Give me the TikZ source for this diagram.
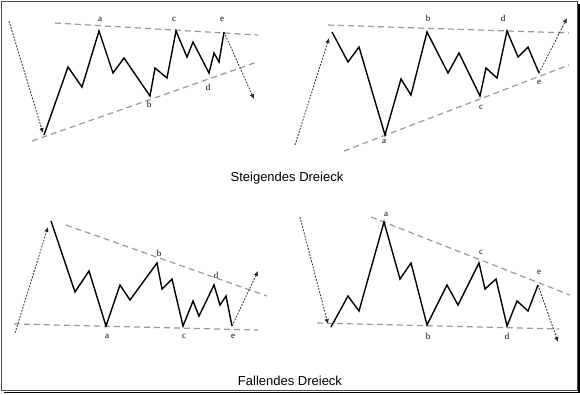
\documentclass[tikz,border=0pt]{standalone}
\usepackage{fontspec}
\setmainfont{Liberation Serif}
\newfontfamily\titlefont{Liberation Sans}
\usetikzlibrary{arrows.meta}

\begin{document}
\begin{tikzpicture}[x=1pt,y=-1pt,
  wave/.style={black,line width=1.4pt,line join=miter},
  trendline/.style={gray!80,line width=1.2pt,dash pattern=on 6pt off 4pt},
  guide/.style={black!85,line width=0.8pt,dash pattern=on 1.8pt off 1.4pt,
    -{Latex[length=5pt,width=4.5pt]}},
  lbl/.style={font=\fontsize{9}{9}\selectfont,inner sep=0pt},
  ttl/.style={font=\titlefont\fontsize{13}{14}\selectfont,inner sep=0pt}]
\useasboundingbox (0,0) rectangle (580,394);
% frame with shadow
\draw[black!70,line width=0.6pt] (1,1) rectangle (577,390);
\draw[black,line width=1.8pt] (4,392.5) -- (579,392.5) -- (579,4);
% top left: rising triangle, breaking down
\draw[trendline] (55,23) -- (258,35);
\draw[trendline] (32,141) -- (257,62);
\draw[wave] (44,135) coordinate (s1) -- (68,67) -- (82,87)
  -- (99,31) coordinate (a1) -- (113,73) -- (124,58)
  -- (150,96) coordinate (b1) -- (155,68) -- (167,78)
  -- (176,31) coordinate (c1) -- (187,57) -- (193,42)
  -- (209,73) coordinate (d1) -- (214,53) -- (219,62)
  -- (224,32) coordinate (e1);
\coordinate (in1) at (9,21);
\coordinate (out1) at (254,99);
\draw[guide] (in1) -- (43,133);
\draw[guide] (e1) -- (out1);
\foreach \n/\p in {a/{100,19},b/{149,104},c/{174,19},d/{208,87},e/{222,19}}{
  \node[lbl] (l1\n) at (\p) {\n};
}
% top right: rising triangle, breaking up
\draw[trendline] (328,25) -- (569,33);
\draw[trendline] (344,151) -- (569,65);
\draw[wave] (332,32) coordinate (s2) -- (348,62) -- (359,47)
  -- (385,135) coordinate (a2) -- (401,79) -- (411,95)
  -- (427,32) coordinate (b2) -- (448,73) -- (459,53)
  -- (480,96) coordinate (c2) -- (486,68) -- (497,78)
  -- (507,31) coordinate (d2) -- (518,57) -- (528,47)
  -- (539,73) coordinate (e2);
\coordinate (in2) at (295,145);
\coordinate (out2) at (567,18);
\draw[guide] (in2) -- (329,38);
\draw[guide] (e2) -- (out2);
\foreach \n/\p in {a/{384,141},b/{428,18},c/{481,107},d/{503,18},e/{539,82}}{
  \node[lbl] (l2\n) at (\p) {\n};
}
\node[ttl] (top) at (287,178) {Steigendes Dreieck};
% bottom left: falling triangle, breaking up
\draw[trendline] (66,225) -- (267,296);
\draw[trendline] (14,324) -- (258,330);
\draw[wave] (51,221) coordinate (s3) -- (75,292) -- (89,271)
  -- (106,326) coordinate (a3) -- (120,285) -- (130,300)
  -- (157,263) coordinate (b3) -- (162,289) -- (172,279)
  -- (183,326) coordinate (c3) -- (193,301) -- (199,316)
  -- (214,285) coordinate (d3) -- (220,305) -- (226,296)
  -- (232,326) coordinate (e3);
\coordinate (in3) at (15,333);
\coordinate (out3) at (258,271);
\draw[guide] (in3) -- (48,227);
\draw[guide] (e3) -- (out3);
\foreach \n/\p in {a/{107,336},b/{159,253},c/{184,336},d/{216,275},e/{233,336}}{
  \node[lbl] (l3\n) at (\p) {\n};
}
% bottom right: falling triangle, breaking down
\draw[trendline] (371,217) -- (570,295);
\draw[trendline] (317,323) -- (559,329);
\draw[wave] (331,327) coordinate (s4) -- (348,296) -- (359,311)
  -- (384,222) coordinate (a4) -- (400,279) -- (411,263)
  -- (427,325) coordinate (b4) -- (447,285) -- (458,305)
  -- (479,263) coordinate (c4) -- (485,289) -- (496,279)
  -- (507,326) coordinate (d4) -- (517,301) -- (528,311)
  -- (538,285) coordinate (e4);
\coordinate (in4) at (300,217);
\coordinate (out4) at (558,342);
\draw[guide] (in4) -- (328,324);
\draw[guide] (e4) -- (out4);
\foreach \n/\p in {a/{386,214},b/{428,336},c/{481,252},d/{507,336},e/{539,272}}{
  \node[lbl] (l4\n) at (\p) {\n};
}
\node[ttl] (bottom) at (290,381) {Fallendes Dreieck};
\end{tikzpicture}
\end{document}
